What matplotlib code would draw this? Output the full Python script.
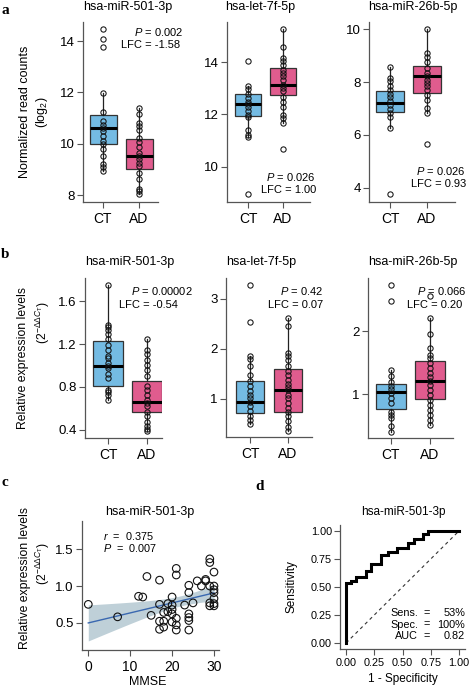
import numpy as np
import matplotlib
matplotlib.use('Agg')
import matplotlib.pyplot as plt

plt.rcParams['font.family'] = ['Liberation Sans', 'DejaVu Sans']
plt.rcParams['mathtext.fontset'] = 'custom'
plt.rcParams['mathtext.rm'] = 'Liberation Sans'
plt.rcParams['mathtext.it'] = 'Liberation Sans:italic'
plt.rcParams['mathtext.bf'] = 'Liberation Sans:bold'

W, H = 470, 690
fig = plt.figure(figsize=(4.7, 6.9), dpi=100)

# ---------------- data ----------------
groups = ['CT', 'AD']
mirs_a = ['hsa-miR-501-3p', 'hsa-let-7f-5p', 'hsa-miR-26b-5p']
mirs_b = ['hsa-miR-501-3p', 'hsa-let-7f-5p', 'hsa-miR-26b-5p']

# box stats: (whisker low, q1, median, q3, whisker high)
a1_ct_box = [8.93, 10.0, 10.61, 11.10, 11.97]
a1_ad_box = [8.03, 9.03, 9.54, 10.20, 11.39]
a1_ct_pts = [14.45, 14.06, 13.78, 11.97, 11.22, 10.87, 10.74, 10.61, 10.48, 10.31, 10.09, 10.0, 9.81, 9.51, 9.22, 9.09, 8.93]
a1_ad_pts = [11.39, 11.17, 10.81, 10.70, 10.52, 10.22, 10.06, 9.87, 9.64, 9.51, 9.41, 9.25, 9.12, 8.87, 8.61, 8.25, 8.16, 8.03]

a2_ct_box = [11.13, 11.94, 12.40, 12.77, 13.09]
a2_ad_box = [11.69, 12.75, 13.14, 13.78, 15.26]
a2_ct_pts = [14.05, 13.09, 12.97, 12.77, 12.62, 12.49, 12.40, 12.27, 12.13, 11.97, 11.89, 11.41, 11.22, 11.13, 8.96]
a2_ad_pts = [15.26, 14.60, 14.15, 14.06, 13.90, 13.71, 13.60, 13.48, 13.32, 13.14, 13.0, 12.88, 12.68, 12.49, 12.30, 11.98, 11.85, 11.69, 10.67]

a3_ct_box = [6.28, 6.86, 7.20, 7.66, 8.59]
a3_ad_box = [6.84, 7.60, 8.23, 8.61, 10.0]
a3_ct_pts = [8.59, 8.14, 8.04, 7.85, 7.70, 7.55, 7.42, 7.30, 7.13, 6.97, 6.82, 6.67, 6.28, 3.75]
a3_ad_pts = [10.0, 9.09, 8.96, 8.78, 8.52, 8.36, 8.23, 8.08, 7.95, 7.85, 7.70, 7.51, 7.32, 7.01, 6.84, 5.66]

b1_ct_box = [0.68, 0.805, 1.0, 1.226, 1.756]
b1_ad_box = [0.39, 0.562, 0.655, 0.852, 1.25]
b1_ct_pts = [1.756, 1.38, 1.357, 1.33, 1.30, 1.25, 1.19, 1.15, 1.09, 1.07, 1.02, 1.0, 0.977, 0.92, 0.88, 0.77, 0.75, 0.72, 0.68]
b1_ad_pts = [1.25, 1.15, 1.11, 1.05, 1.01, 0.96, 0.90, 0.805, 0.77, 0.727, 0.68, 0.65, 0.62, 0.57, 0.525, 0.47, 0.43, 0.41, 0.39]

b2_ct_box = [0.49, 0.71, 0.93, 1.36, 1.86]
b2_ad_box = [0.36, 0.73, 1.17, 1.60, 2.62]
b2_ct_pts = [3.27, 2.53, 1.86, 1.80, 1.65, 1.48, 1.35, 1.26, 1.15, 1.08, 1.01, 0.93, 0.85, 0.75, 0.65, 0.58, 0.49]
b2_ad_pts = [2.62, 2.45, 1.92, 1.85, 1.77, 1.65, 1.55, 1.48, 1.38, 1.30, 1.23, 1.17, 1.08, 1.01, 0.91, 0.81, 0.73, 0.65, 0.55, 0.44, 0.36]

b3_ct_box = [0.40, 0.76, 1.04, 1.165, 1.39]
b3_ad_box = [0.51, 0.92, 1.21, 1.52, 2.22]
b3_ct_pts = [2.745, 2.49, 1.39, 1.29, 1.20, 1.13, 1.08, 1.02, 0.94, 0.86, 0.72, 0.67, 0.62, 0.49, 0.40]
b3_ad_pts = [2.56, 2.22, 1.96, 1.73, 1.63, 1.57, 1.49, 1.41, 1.34, 1.27, 1.21, 1.15, 1.07, 0.99, 0.91, 0.83, 0.75, 0.67, 0.59, 0.51]

a_pvals = ['0.002', '0.026', '0.026']
a_lfcs = ['-1.58', '1.00', '0.93']
b_pvals = ['0.00002', '0.42', '0.066']
b_lfcs = ['-0.54', '0.07', '0.20']

a1_yticks = [8, 10, 12, 14]
a2_yticks = [10, 12, 14]
a3_yticks = [4, 6, 8, 10]
b1_yticks = [0.4, 0.8, 1.2, 1.6]
b2_yticks = [1, 2, 3]
b3_yticks = [1, 2]

# panel c: MMSE vs expression
mmse = [0, 7, 12, 13, 14, 15, 17, 17, 17, 17, 18, 18, 18, 19, 19, 20, 20, 20, 20, 20,
        21, 21, 21, 21, 21, 23, 24, 24, 24, 24, 24, 24, 25, 26, 27, 28, 28,
        29, 29, 29, 29, 29, 30, 30, 30, 30, 30, 30, 30]
expr = [0.75, 0.58, 0.86, 0.85, 1.13, 0.60, 1.08, 0.75, 0.52, 0.41, 0.44, 0.64, 0.52, 0.76, 0.65, 0.85, 0.74, 0.68, 0.62, 0.51,
        1.24, 1.15, 0.56, 0.47, 0.40, 0.74, 1.01, 0.91, 0.62, 0.57, 0.53, 0.40, 0.77, 1.07, 1.00, 1.09, 1.07,
        1.37, 1.32, 1.00, 0.77, 0.73, 1.19, 1.00, 0.95, 0.91, 0.83, 0.76, 0.73]
c_yticks = [0.5, 1.0, 1.5]
c_xticks = [0, 10, 20, 30]

# panel d: ROC curve steps
roc_fpr = [0, 0, 0.04, 0.04, 0.09, 0.09, 0.18, 0.18, 0.22, 0.22, 0.31, 0.31, 0.37, 0.37,
           0.45, 0.45, 0.55, 0.55, 0.60, 0.60, 0.68, 0.68, 0.73, 0.73, 1.0]
roc_tpr = [0, 0.533, 0.533, 0.557, 0.557, 0.586, 0.586, 0.646, 0.646, 0.705, 0.705, 0.786, 0.786, 0.815,
           0.815, 0.845, 0.845, 0.896, 0.896, 0.929, 0.929, 0.973, 0.973, 1.0, 1.0]
d_ticks = [0, 0.25, 0.5, 0.75, 1.0]
roc_labels = ['Sens.', 'Spec.', 'AUC']
roc_values = ['53%', '100%', '0.82']

# ---------------- style ----------------
BLUE = '#74BBE3'
PINK = '#E05C8E'
AXC = '#555555'
TICKFS = 9.5


def px_axes(L, T, R, B):
    return fig.add_axes([L / W, 1 - B / H, (R - L) / W, (B - T) / H])


def ftext(x, y, s, **kw):
    fig.text(x / W, 1 - y / H, s, **kw)


def style_axes(ax, fs=TICKFS):
    for s in ['top', 'right']:
        ax.spines[s].set_visible(False)
    for s in ['left', 'bottom']:
        ax.spines[s].set_color(AXC)
        ax.spines[s].set_linewidth(0.9)
    ax.tick_params(axis='both', colors=AXC, labelcolor='black', length=4, width=0.8,
                   labelsize=fs, pad=2)
    ax.patch.set_alpha(0)


def box_panel(rect, cats, yticks, ylim, ct_box, ad_box, ct_pts, ad_pts, fmt):
    L, T, R, B, c, d = rect
    u = d - c
    ax = px_axes(L, T, R, B)
    stats = []
    for bx in (ct_box, ad_box):
        stats.append(dict(whislo=bx[0], q1=bx[1], med=bx[2], q3=bx[3], whishi=bx[4], fliers=[]))
    bp = ax.bxp(stats, positions=[1, 2], widths=0.75, patch_artist=True, showcaps=False,
                showfliers=False,
                boxprops=dict(edgecolor='#333333', linewidth=0.9),
                whiskerprops=dict(color='#222222', linewidth=0.9),
                medianprops=dict(color='black', linewidth=2.2))
    for patch, col in zip(bp['boxes'], [BLUE, PINK]):
        patch.set_facecolor(col)
    ax.plot([1] * len(ct_pts), ct_pts, 'o', mfc='none', mec='#111111', ms=3.8, mew=0.75, zorder=5)
    ax.plot([2] * len(ad_pts), ad_pts, 'o', mfc='none', mec='#111111', ms=3.8, mew=0.75, zorder=5)
    ax.set_xlim(1 - (c - L) / u, 2 + (R - d) / u)
    ax.set_ylim(*ylim)
    ax.set_yticks(yticks)
    ax.set_yticklabels([fmt % v for v in yticks])
    ax.set_xticks([1, 2])
    ax.set_xticklabels(cats)
    style_axes(ax)
    ax.tick_params(axis='x', labelsize=10, pad=3)
    return ax


# ---------------- panel a ----------------
a_rects = [(83, 22, 158, 202, 103, 139), (227, 22, 310, 202, 248, 283), (369, 22, 455, 202, 390, 427)]
a_ylims = [(7.73, 14.74), (8.65, 15.54), (3.46, 10.28)]
a_data = [(a1_yticks, a1_ct_box, a1_ad_box, a1_ct_pts, a1_ad_pts),
          (a2_yticks, a2_ct_box, a2_ad_box, a2_ct_pts, a2_ad_pts),
          (a3_yticks, a3_ct_box, a3_ad_box, a3_ct_pts, a3_ad_pts)]
for rect, yl, dat in zip(a_rects, a_ylims, a_data):
    box_panel(rect, groups, dat[0], yl, dat[1], dat[2], dat[3], dat[4], '%d')

a_title_x = [128, 260, 413]
for x, t in zip(a_title_x, mirs_a):
    ftext(x, 7, t, ha='center', va='center', fontsize=9)

a_ann = [((183, 32), (180, 45)), ((316, 177), (316, 190)), ((466, 171), (466, 184))]
for (pp, lp), pv, lf in zip(a_ann, a_pvals, a_lfcs):
    ftext(pp[0], pp[1], r'$\it{P}$ = ' + pv, ha='right', va='center', fontsize=8)
    ftext(lp[0], lp[1], 'LFC = ' + lf, ha='right', va='center', fontsize=8)

ftext(25, 112, 'Normalized read counts', rotation=90, ha='center', va='center', fontsize=9)
ftext(42, 112, r'(log$_2$)', rotation=90, ha='center', va='center', fontsize=9)

# ---------------- panel b ----------------
b_rects = [(85, 278, 162, 438, 108, 147), (226, 278, 312, 437, 250, 288), (368, 278, 453, 438, 391, 430)]
b_ylims = [(0.322, 1.82), (0.23, 3.42), (0.30, 2.85)]
b_data = [(b1_yticks, b1_ct_box, b1_ad_box, b1_ct_pts, b1_ad_pts),
          (b2_yticks, b2_ct_box, b2_ad_box, b2_ct_pts, b2_ad_pts),
          (b3_yticks, b3_ct_box, b3_ad_box, b3_ct_pts, b3_ad_pts)]
b_fmt = ['%.1f', '%d', '%d']
for rect, yl, dat, fm in zip(b_rects, b_ylims, b_data, b_fmt):
    box_panel(rect, groups, dat[0], yl, dat[1], dat[2], dat[3], dat[4], fm)

b_title_x = [130, 261, 413]
for x, t in zip(b_title_x, mirs_b):
    ftext(x, 262, t, ha='center', va='center', fontsize=9)

b_ann = [((193, 291), (178, 305)), ((323, 291), (323, 305)), ((467, 291), (462, 305))]
for (pp, lp), pv, lf in zip(b_ann, b_pvals, b_lfcs):
    ftext(pp[0], pp[1], r'$\it{P}$ = ' + pv, ha='right', va='center', fontsize=8)
    ftext(lp[0], lp[1], 'LFC = ' + lf, ha='right', va='center', fontsize=8)

ddct = r'(2$^{-\Delta\Delta \mathit{C}_\mathrm{T}}$)'
ftext(23, 358, 'Relative expression levels', rotation=90, ha='center', va='center', fontsize=8.8)
ftext(43, 322, ddct, rotation=90, ha='center', va='center', fontsize=8.8)

# ---------------- panel c ----------------
axc = px_axes(82, 521, 219, 650)
mx = np.array(mmse, float)
my = np.array(expr, float)
n = len(mx)
slope, icpt = np.polyfit(mx, my, 1)
xs = np.linspace(mx.min(), mx.max(), 100)
yfit = icpt + slope * xs
resid = my - (icpt + slope * mx)
s_err = np.sqrt(np.sum(resid ** 2) / (n - 2))
sxx = np.sum((mx - mx.mean()) ** 2)
se = s_err * np.sqrt(1.0 / n + (xs - mx.mean()) ** 2 / sxx)
tval = 2.01
axc.fill_between(xs, yfit - tval * se, yfit + tval * se, color='#BFD0D8', lw=0, zorder=1)
axc.plot(xs, yfit, color='#3A68B0', lw=1.0, zorder=2)
axc.scatter(mx, my, s=30, facecolors='none', edgecolors='#111111', linewidths=0.8, zorder=3)
axc.set_xlim(-1.5, 31.2)
axc.set_ylim(0.128, 1.886)
axc.set_xticks(c_xticks)
axc.set_yticks(c_yticks)
axc.set_yticklabels(['%.1f' % v for v in c_yticks])
style_axes(axc)
axc.tick_params(axis='x', labelsize=10, pad=3)

ftext(150, 512, 'hsa-miR-501-3p', ha='center', va='center', fontsize=9)
ftext(103, 536, r'$\it{r}$  =  0.375', ha='left', va='center', fontsize=7.8)
ftext(103, 548, r'$\it{P}$  =  0.007', ha='left', va='center', fontsize=7.8)
ftext(148, 682, 'MMSE', ha='center', va='center', fontsize=9)
ftext(25, 578, 'Relative expression levels', rotation=90, ha='center', va='center', fontsize=8.8)
ftext(43, 563, ddct, rotation=90, ha='center', va='center', fontsize=8.8)

# ---------------- panel d ----------------
axd = px_axes(340.4, 525.4, 464.6, 648.6)
axd.plot([0, 1], [0, 1], color='#333333', lw=0.8, ls=(0, (3, 3)))
axd.plot(roc_fpr, roc_tpr, color='black', lw=2.2, solid_joinstyle='miter')
axd.set_xlim(-0.05, 1.05)
axd.set_ylim(-0.05, 1.05)
axd.set_xticks(d_ticks)
axd.set_yticks(d_ticks)
axd.set_xticklabels(['%.2f' % v for v in d_ticks])
axd.set_yticklabels(['%.2f' % v for v in d_ticks])
style_axes(axd, fs=7.8)
axd.tick_params(axis='x', pad=3)
ftext(403, 512, 'hsa-miR-501-3p', ha='center', va='center', fontsize=8.5)
ftext(403, 679, '1 - Specificity', ha='center', va='center', fontsize=8.5)
ftext(292, 587, 'Sensitivity', rotation=90, ha='center', va='center', fontsize=8.5)
for i, (lab, val) in enumerate(zip(roc_labels, roc_values)):
    y = 613 + i * 11.5
    ftext(418, y, lab, ha='right', va='center', fontsize=7.8)
    ftext(427, y, '=', ha='center', va='center', fontsize=7.8)
    ftext(465, y, val, ha='right', va='center', fontsize=7.8)

# ---------------- panel letters ----------------
for lab, (x, y) in zip(['a', 'b', 'c', 'd'], [(5, 11), (5, 255), (5, 482), (260, 486)]):
    ftext(x, y, lab, ha='center', va='center', fontsize=11, fontweight='bold',
          family=['Liberation Serif', 'DejaVu Serif'])

fig.savefig('out.png', dpi=100)
